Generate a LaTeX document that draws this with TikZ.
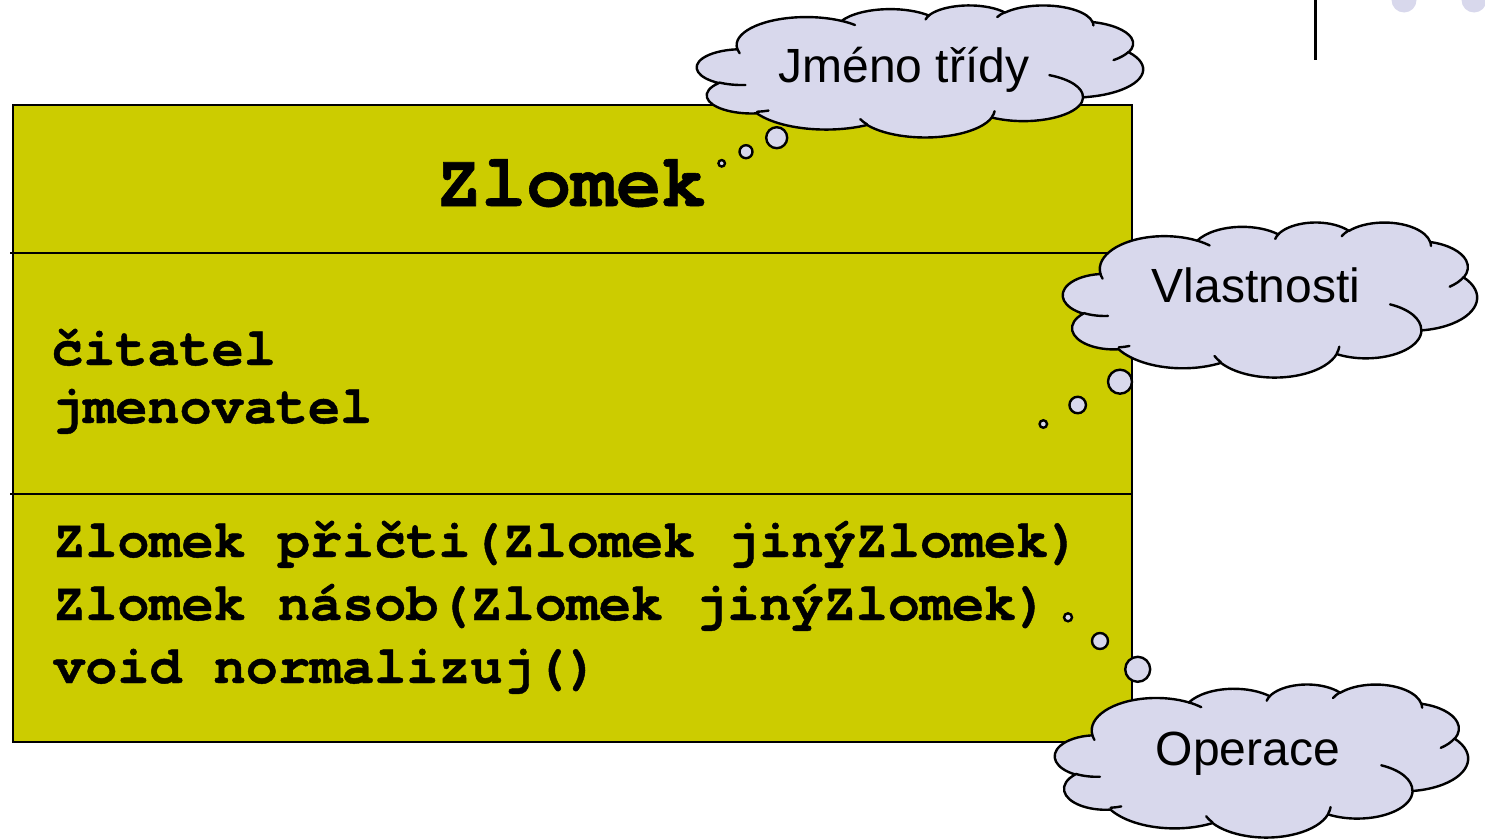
\documentclass[tikz,border=0pt]{standalone}
\usepackage{fontspec}
\setmainfont{Liberation Sans}
\newfontfamily\codefont{texgyrecursor-bold.otf}[FakeBold=0.8]
\definecolor{classfill}{RGB}{204,204,0}
\definecolor{cloudfill}{RGB}{216,216,236}

% one elliptical arc given by radii, start angle and sweep (angles measured as seen, y downwards)
\newcommand\cloudarc[4]{%
  \pgfmathsetmacro\cloudta{atan2((#1)*sin(#3),(#2)*cos(#3))}%
  \pgfmathsetmacro\cloudtb{atan2((#1)*sin((#3)+(#4)),(#2)*cos((#3)+(#4)))}%
  \pgfmathsetmacro\cloudtb{\cloudtb+360*(\cloudtb<\cloudta)}%
  \pgfpatharc{\cloudta}{\cloudtb}{#1pt and #2pt}}

% cloud outline in a 432 x 432 box
\newcommand\cloudoutline{%
  \pgfpathmoveto{\pgfqpoint{39pt}{143.7pt}}%
  \cloudarc{67.53}{91.90}{-190.4875}{123.7805}%
  \cloudarc{53.33}{72.67}{-144.1024}{89.9452}%
  \cloudarc{43.65}{59.45}{-145.8079}{99.7230}%
  \cloudarc{48.57}{65.95}{-130.9861}{117.2417}%
  \cloudarc{53.33}{72.73}{-78.7089}{109.0269}%
  \cloudarc{67.75}{92.20}{-46.2673}{130.2690}%
  \cloudarc{57.85}{78.67}{0.6250}{114.0333}%
  \cloudarc{67.52}{92.15}{22.4516}{115.1726}%
  \cloudarc{77.20}{105.43}{66.2426}{75.7110}%
  \cloudarc{43.60}{59.18}{-274.9421}{146.7356}%
  \cloudarc{43.45}{59.45}{-246.8285}{152.5189}%
  \pgfpathclose}

% the short inner strokes between the puffs
\newcommand\cloudcreases{%
  \pgfpathmoveto{\pgfqpoint{46.93pt}{261.77pt}}\cloudarc{43.45}{59.45}{86.7420}{26.4295}%
  \pgfpathmoveto{\pgfqpoint{69.28pt}{345.59pt}}\cloudarc{43.60}{59.18}{73.6105}{11.4475}%
  \pgfpathmoveto{\pgfqpoint{164.78pt}{390.90pt}}\cloudarc{67.52}{92.15}{137.6242}{14.0811}%
  \pgfpathmoveto{\pgfqpoint{288.27pt}{347.51pt}}\cloudarc{67.52}{92.15}{6.4533}{15.9984}%
  \pgfpathmoveto{\pgfqpoint{341.29pt}{229.54pt}}\cloudarc{57.85}{78.67}{-70.2924}{70.9174}%
  \pgfpathmoveto{\pgfqpoint{417.98pt}{153.54pt}}\cloudarc{53.33}{72.73}{30.3180}{27.7515}%
  \pgfpathmoveto{\pgfqpoint{383.24pt}{54.26pt}}\cloudarc{48.57}{65.95}{-13.7443}{14.8589}%
  \pgfpathmoveto{\pgfqpoint{290.78pt}{39.52pt}}\cloudarc{48.57}{65.95}{-149.1815}{18.1954}%
  \pgfpathmoveto{\pgfqpoint{221.41pt}{47.20pt}}\cloudarc{43.65}{59.45}{-163.4943}{17.6864}%
  \pgfpathmoveto{\pgfqpoint{140.00pt}{51.92pt}}\cloudarc{67.53}{91.90}{-66.7070}{12.3194}%
  \pgfpathmoveto{\pgfqpoint{41.27pt}{157.89pt}}\cloudarc{67.53}{91.90}{157.6544}{11.8582}%
}

% cloud with its box: left, top, width, height
\newcommand\cloudat[4]{%
  \pgfmathsetmacro\cloudsx{(#3)/432}\pgfmathsetmacro\cloudsy{(#4)/432}%
  \begin{scope}[shift={(#1,#2)}, xscale=\cloudsx, yscale=-\cloudsy]
    \pgfsetlinewidth{2.4pt}\pgfsetroundjoin\pgfsetroundcap
    \pgfsetstrokecolor{black}\pgfsetfillcolor{cloudfill}%
    \cloudoutline\pgfusepath{fill,stroke}%
    \cloudcreases\pgfusepath{stroke}%
  \end{scope}}

\tikzset{
  classbox/.style={draw=black, fill=classfill, line width=2.6pt},
  divider/.style={draw=black, line width=2.2pt},
  bubble/.style={circle, draw=black, fill=cloudfill, line width=2.4pt, inner sep=0pt},
  cloudtext/.style={anchor=base, inner sep=0pt, font=\fontsize{48}{58}\selectfont},
  codeline/.style={anchor=base west, inner sep=0pt, font=\codefont\fontsize{53.5}{63}\selectfont},
  classtitle/.style={anchor=base west, inner sep=0pt, font=\codefont\fontsize{75}{90}\selectfont},
  deco/.style={circle, fill=cloudfill, inner sep=0pt, minimum size=25pt}
}

\begin{document}
\begin{tikzpicture}[x=1pt, y=-1pt]
\useasboundingbox (0,0) rectangle (1485,838);

% slide decoration, top right
\draw[line width=3pt] (1315.5,0) -- (1315.5,60);
\node[deco] (decoA) at (1404,0) {};
\node[deco] (decoB) at (1474,0) {};

% class box with its three compartments
\path[classbox] (13,105) rectangle (1132,742);
\draw[divider] (10,253) -- (1131,253);
\draw[divider] (10,494) -- (1131,494);

\node[classtitle] (title) at (436,206) {Zlomek};
\node[codeline] (attrA) at (51,365) {čitatel};
\node[codeline] (attrB) at (51,423) {jmenovatel};
\node[codeline] (opA) at (53,557) {Zlomek přičti(Zlomek jinýZlomek)};
\node[codeline] (opB) at (53,620) {Zlomek násob(Zlomek jinýZlomek)};
\node[codeline] (opC) at (53,683) {void normalizuj()};

% thought bubbles
\node[bubble, minimum size=6.5pt] (nameS) at (721.7,163.3) {};
\node[bubble, minimum size=13pt] (nameM) at (746,151.7) {};
\node[bubble, minimum size=21pt] (nameL) at (776.7,137.7) {};
\node[bubble, minimum size=7.5pt] (propS) at (1043.3,424) {};
\node[bubble, minimum size=16.5pt] (propM) at (1077.7,405) {};
\node[bubble, minimum size=24pt] (propL) at (1120,381.7) {};
\node[bubble, minimum size=8pt] (operS) at (1068,617.3) {};
\node[bubble, minimum size=16pt] (operM) at (1100,641) {};
\node[bubble, minimum size=25pt] (operL) at (1137.7,669.3) {};

% clouds
\cloudat{697}{5}{446}{132}
\cloudat{1063}{222}{414}{155}
\cloudat{1055}{684}{413}{153}

\node[cloudtext] (nameText) at (904,82) {Jméno třídy};
\node[cloudtext] (propText) at (1256,302) {Vlastnosti};
\node[cloudtext] (operText) at (1248,765) {Operace};
\end{tikzpicture}
\end{document}
